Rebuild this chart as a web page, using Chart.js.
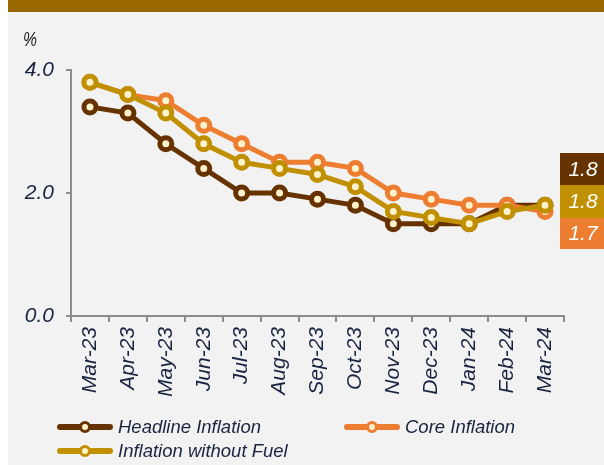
<!DOCTYPE html>
<html>
<head>
<meta charset="utf-8">
<script src="https://cdn.jsdelivr.net/npm/chart.js@4.4.1/dist/chart.umd.min.js"></script>
<style>
    body { margin: 0; background: #ffffff; font-family: "Liberation Sans", Arial, sans-serif; }
    #panel { position: absolute; left: 8px; top: 0; width: 596px; height: 465px; background: #f2f2f2; overflow: hidden; }
    #topbar { position: absolute; left: 8px; top: 0; width: 596px; height: 12px; background: #996600; }
    #chartWrap { position: absolute; left: 0; top: 0; width: 604px; height: 465px; }
    #unit { position: absolute; left: 23px; top: 27px; font-size: 21px; font-style: italic; color: #222; transform: scaleX(0.75); transform-origin: left top; }
    .legend-item { position: absolute; height: 20px; display: flex; align-items: center; }
    .legend-mark { position: relative; width: 56px; height: 6px; border-radius: 3px; margin-right: 5px; }
    .legend-dot { position: absolute; left: 22px; top: -3.5px; width: 6px; height: 6px; border-radius: 50%; background: #fff2cc; border-width: 3.5px; border-style: solid; }
    .legend-text { font-size: 18.5px; font-style: italic; color: #1a2440; white-space: nowrap; }
</style>
</head>
<body>
<div id="panel"></div>
<div id="topbar"></div>
<div id="chartWrap"><canvas id="inflationChart" width="604" height="465"></canvas></div>
<div id="unit">%</div>
<div id="legend"></div>
<script>
    // Monthly inflation, % y/y
    const months = ['Mar-23', 'Apr-23', 'May-23', 'Jun-23', 'Jul-23', 'Aug-23', 'Sep-23',
                    'Oct-23', 'Nov-23', 'Dec-23', 'Jan-24', 'Feb-24', 'Mar-24'];
    const headline = [3.4, 3.3, 2.8, 2.4, 2.0, 2.0, 1.9, 1.8, 1.5, 1.5, 1.5, 1.8, 1.8];
    const core = [3.8, 3.6, 3.5, 3.1, 2.8, 2.5, 2.5, 2.4, 2.0, 1.9, 1.8, 1.8, 1.7];
    const withoutFuel = [3.8, 3.6, 3.3, 2.8, 2.5, 2.4, 2.3, 2.1, 1.7, 1.6, 1.5, 1.7, 1.8];
    const yTicks = [0, 2, 4];

    const navy = '#1a2440';
    const axisGray = '#8c8c8c';
    const cream = '#fff2cc';

    const series = [
        { label: 'Headline Inflation', data: headline, color: '#663300', order: 3 },
        { label: 'Core Inflation', data: core, color: '#ed7d31', order: 2 },
        { label: 'Inflation without Fuel', data: withoutFuel, color: '#c09000', order: 1 }
    ];

    // Coloured boxes on the right with the latest values
    const lastValueBoxes = {
        id: 'lastValueBoxes',
        afterDraw(chart) {
            const ctx = chart.ctx;
            const boxes = [
                { s: series[0], top: 153, h: 32 },
                { s: series[2], top: 185, h: 33 },
                { s: series[1], top: 218, h: 31 }
            ];
            ctx.save();
            ctx.font = 'italic 21px "Liberation Sans", Arial, sans-serif';
            ctx.textAlign = 'center';
            ctx.textBaseline = 'middle';
            boxes.forEach(function(b) {
                ctx.fillStyle = b.s.color;
                ctx.fillRect(560, b.top, 44, b.h);
                ctx.fillStyle = '#ffffff';
                const v = b.s.data[b.s.data.length - 1];
                ctx.fillText(v.toFixed(1), 583, b.top + b.h / 2 + 1);
            });
            ctx.restore();
        }
    };

    const ctx = document.getElementById('inflationChart').getContext('2d');
    const inflationChart = new Chart(ctx, {
        type: 'line',
        data: {
            labels: months,
            datasets: series.map(function(s) {
                return {
                    label: s.label,
                    data: s.data,
                    order: s.order,
                    borderColor: s.color,
                    backgroundColor: s.color,
                    borderWidth: 5,
                    pointRadius: 6,
                    pointBorderWidth: 5,
                    pointBackgroundColor: cream,
                    pointBorderColor: s.color,
                    tension: 0,
                    fill: false
                };
            })
        },
        options: {
            responsive: false,
            animation: false,
            layout: { padding: { left: 0, top: 70, right: 40, bottom: 0 } },
            plugins: {
                legend: { display: false },
                tooltip: { enabled: false }
            },
            scales: {
                x: {
                    offset: true,
                    grid: { offset: true, drawOnChartArea: false, drawTicks: true, tickLength: 6, color: axisGray, lineWidth: 2 },
                    border: { color: axisGray, width: 2 },
                    ticks: {
                        maxRotation: 90, minRotation: 90, padding: 5, autoSkip: false,
                        color: navy,
                        font: { family: '"Liberation Sans", Arial, sans-serif', size: 21, style: 'italic' }
                    },
                    afterFit: function(scale) { scale.height = 465 - 316; }
                },
                y: {
                    min: 0, max: 4,
                    afterBuildTicks: function(scale) { scale.ticks = yTicks.map(function(v) { return { value: v }; }); },
                    grid: { drawOnChartArea: false, drawTicks: true, tickLength: 5, color: axisGray, lineWidth: 2 },
                    border: { color: axisGray, width: 2 },
                    ticks: {
                        padding: 12,
                        color: navy,
                        font: { family: '"Liberation Sans", Arial, sans-serif', size: 21, style: 'italic' },
                        callback: function(v) { return Number(v).toFixed(1); }
                    },
                    afterFit: function(scale) { scale.width = 71; }
                }
            }
        },
        plugins: [lastValueBoxes]
    });

    // HTML legend laid out in two columns like the original
    const legendSpots = [
        { s: series[0], left: 57, top: 417 },
        { s: series[1], left: 344, top: 417 },
        { s: series[2], left: 57, top: 441 }
    ];
    const legend = document.getElementById('legend');
    legendSpots.forEach(function(p) {
        const item = document.createElement('div');
        item.className = 'legend-item';
        item.style.left = p.left + 'px';
        item.style.top = p.top + 'px';
        item.innerHTML = '<div class="legend-mark" style="background:' + p.s.color + '">' +
            '<div class="legend-dot" style="border-color:' + p.s.color + '"></div></div>' +
            '<span class="legend-text">' + p.s.label + '</span>';
        legend.appendChild(item);
    });
</script>
</body>
</html>
